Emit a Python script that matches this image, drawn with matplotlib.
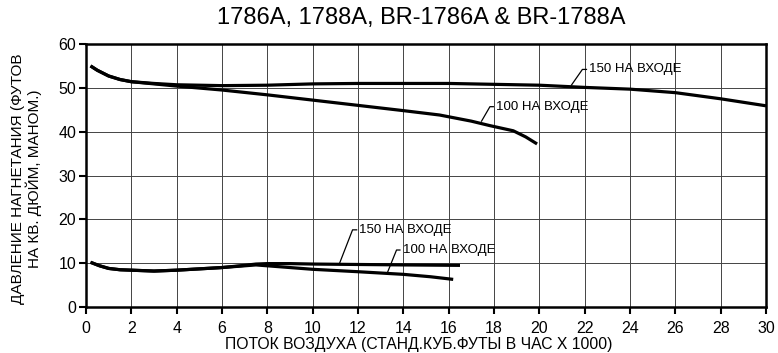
import numpy as np
import matplotlib.pyplot as plt

plt.rcParams['font.family'] = ['Liberation Sans', 'DejaVu Sans']

# upper pair of curves (both start together, split near 3)
x_up150 = [0.2, 0.5, 1, 1.5, 2, 3, 4, 6, 8, 10, 12, 14, 16, 18, 20, 22, 24, 26, 28, 30]
y_up150 = [55.0, 54.0, 52.7, 51.9, 51.4, 51.0, 50.7, 50.5, 50.6, 50.9, 51.0, 51.0, 51.0, 50.8, 50.6, 50.1, 49.7, 48.9, 47.5, 45.9]
x_up100 = [0.2, 0.5, 1, 1.5, 2, 3, 4, 6, 8, 10, 12, 14, 15.6, 17, 17.8, 18.85, 19.4, 19.9]
y_up100 = [55.0, 54.0, 52.7, 51.9, 51.4, 50.9, 50.4, 49.5, 48.4, 47.2, 46.0, 44.8, 43.8, 42.4, 41.4, 40.2, 38.8, 37.2]

# lower pair
x_lo150 = [0.2, 0.6, 1, 1.5, 2, 3, 4, 5, 6, 7, 7.5, 8, 9, 10, 12, 14, 16.5]
y_lo150 = [10.2, 9.4, 8.8, 8.5, 8.4, 8.2, 8.4, 8.7, 9.0, 9.5, 9.8, 9.9, 9.9, 9.8, 9.7, 9.6, 9.5]
x_lo100 = [0.2, 0.6, 1, 1.5, 2, 3, 4, 5, 6, 7, 7.5, 8, 9, 10, 12, 14, 15.2, 16.2]
y_lo100 = [10.2, 9.4, 8.8, 8.5, 8.4, 8.2, 8.4, 8.7, 9.0, 9.4, 9.6, 9.4, 9.0, 8.6, 8.05, 7.45, 6.9, 6.3]

# labels: (text, leader x points, leader y points)
labels = [
    ("150 НА ВХОДЕ", [21.42, 21.9, 22.08], [50.65, 54.2, 54.2]),
    ("100 НА ВХОДЕ", [17.45, 17.82, 17.97], [42.4, 45.7, 45.7]),
    ("150 НА ВХОДЕ", [11.17, 11.76, 11.94], [9.75, 17.6, 17.6]),
    ("100 НА ВХОДЕ", [13.29, 13.7, 13.85], [7.75, 13.0, 13.0]),
]

W, H = 778, 353
fig = plt.figure(figsize=(W / 100, H / 100), dpi=100)
ax = fig.add_axes([86 / W, 1 - 307 / H, 680 / W, 263 / H])

for xs, ys in [(x_up150, y_up150), (x_up100, y_up100), (x_lo150, y_lo150), (x_lo100, y_lo100)]:
    ax.plot(xs, ys, color='black', lw=2.3, solid_capstyle='butt')

for txt, lx, ly in labels:
    ax.plot(lx, ly, color='black', lw=0.9)
    ax.text(lx[-1] + 0.12, ly[-1], txt, fontsize=9.5, va='center', ha='left')

ax.set_xlim(0, 30)
ax.set_ylim(0, 60)
ax.set_xticks(np.arange(0, 31, 2))
ax.set_yticks(np.arange(0, 61, 10))
ax.grid(True, color='#444444', lw=0.7)
ax.set_axisbelow(True)
for s in ax.spines.values():
    s.set_linewidth(1.8)
ax.tick_params(direction='out', length=5, width=1.5, labelsize=11.5)
ax.tick_params(axis='x', pad=5)
ax.tick_params(axis='y', pad=2)

fig.text(419 / W, 1 - 345 / H, "ПОТОК ВОЗДУХА (СТАНД.КУБ.ФУТЫ В ЧАС X 1000)",
         fontsize=11.3, ha='center', va='center')
fig.text(26.5 / W, 1 - 178.5 / H, "ДАВЛЕНИЕ НАГНЕТАНИЯ (ФУТОВ\nНА КВ. ДЮЙМ, МАНОМ.)",
         fontsize=11, rotation=90, ha='center', va='center', multialignment='center', linespacing=1.1)
fig.text(421 / W, 1 - 18 / H, "1786A, 1788A, BR-1786A & BR-1788A", fontsize=17, ha='center', va='center')

fig.savefig('out.png', dpi=100)
